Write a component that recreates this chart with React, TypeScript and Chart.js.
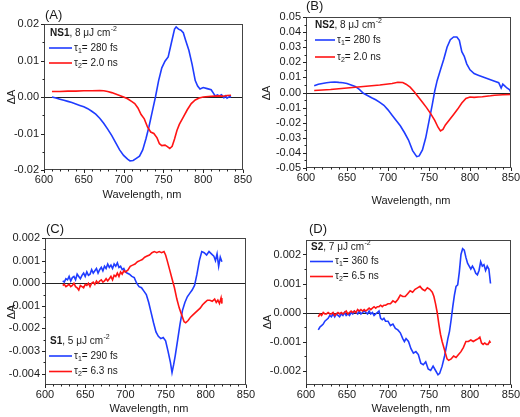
import React, { useEffect, useRef } from "react";
import { Chart, registerables } from "chart.js";
Chart.register(...registerables);

const FONT = '"Liberation Sans", Arial, Helvetica, sans-serif';
const TXT = "#1a1a1a";
const BLUE = "#1f3cff";
const RED = "#ff1414";

const X_TICKS = [600, 650, 700, 750, 800, 850];

// ---------- Panel A: NS1 ----------
const A_BLUE_X = [610,615,620,625,630,635,640,645,650,655,660,665,670,675,680,685,690,695,700,705,708,712,716,720,724,728,732,736,740,744,748,752,756,760,764,766,769,772,775,778,782,786,790,793,796,800,805,810,813,815,818,820,823,826,828,830,833,835];
const A_BLUE_Y = [0.0000,-0.0003,-0.0006,-0.0009,-0.0012,-0.0015,-0.0019,-0.0023,-0.0027,-0.0032,-0.0039,-0.0047,-0.0058,-0.0072,-0.0088,-0.0105,-0.0125,-0.0145,-0.0160,-0.0170,-0.0175,-0.0174,-0.0168,-0.0162,-0.0145,-0.0115,-0.0080,-0.0040,0.0000,0.0045,0.0080,0.0098,0.0110,0.0148,0.0186,0.0192,0.0186,0.0183,0.0176,0.0155,0.0128,0.0090,0.0045,0.0030,0.0022,0.0026,0.0023,0.0020,0.0010,0.0003,0.0006,0.0003,0.0006,-0.0002,0.0003,-0.0003,0.0001,0.0000];
const A_RED_X = [610,620,630,640,650,660,670,675,680,685,690,695,700,705,710,714,718,722,726,730,734,738,742,745,748,752,755,758,761,764,767,770,775,780,785,790,795,800,810,820,825,830,835];
const A_RED_Y = [0.0015,0.0015,0.0016,0.0016,0.0017,0.0017,0.0018,0.0017,0.0015,0.0012,0.0008,0.0004,0.0000,-0.0005,-0.0012,-0.0018,-0.0030,-0.0048,-0.0060,-0.0082,-0.0096,-0.0100,-0.0112,-0.0128,-0.0133,-0.0132,-0.0136,-0.0141,-0.0135,-0.0115,-0.0092,-0.0075,-0.0055,-0.0035,-0.0018,-0.0008,-0.0003,0.0000,0.0002,0.0003,0.0002,0.0004,0.0005];
const A_Y_TICKS = [-0.02, -0.01, 0, 0.01, 0.02];
const A_TAU = ["280 fs", "2.0 ns"];

// ---------- Panel B: NS2 ----------
const B_BLUE_X = [610,615,620,625,630,635,640,645,650,655,660,665,670,675,680,685,690,695,700,705,710,715,720,725,730,735,738,742,746,750,754,757,760,764,768,772,776,780,784,787,790,793,796,800,805,810,815,820,825,830,835,838,840,843,845,848,850];
const B_BLUE_Y = [0.0045,0.0055,0.0060,0.0065,0.0068,0.0070,0.0067,0.0065,0.0060,0.0050,0.0040,0.0020,-0.0005,-0.0020,-0.0035,-0.0048,-0.0065,-0.0085,-0.0115,-0.0150,-0.0185,-0.0220,-0.0265,-0.0315,-0.0385,-0.0425,-0.0420,-0.0380,-0.0300,-0.0190,-0.0080,0.0010,0.0080,0.0150,0.0220,0.0300,0.0350,0.0368,0.0368,0.0345,0.0270,0.0240,0.0190,0.0150,0.0125,0.0115,0.0105,0.0095,0.0085,0.0075,0.0065,0.0030,0.0055,0.0040,0.0030,0.0020,0.0000];
const B_RED_X = [610,630,650,670,690,705,712,718,722,727,732,737,742,747,752,757,761,764,767,770,775,780,785,790,795,800,805,810,815,820,825,830,840,850];
const B_RED_Y = [0.0013,0.0020,0.0030,0.0040,0.0050,0.0060,0.0068,0.0066,0.0055,0.0035,0.0005,-0.0030,-0.0065,-0.0100,-0.0140,-0.0185,-0.0230,-0.0255,-0.0245,-0.0215,-0.0180,-0.0145,-0.0110,-0.0070,-0.0040,-0.0030,-0.0032,-0.0030,-0.0028,-0.0025,-0.0022,-0.0018,-0.0015,-0.0013];
const B_Y_TICKS = [-0.05,-0.04,-0.03,-0.02,-0.01,0,0.01,0.02,0.03,0.04,0.05];
const B_TAU = ["280 fs", "2.0 ns"];

// ---------- Panel C: S1 ----------
const C_BLUE_X = [622,624,626,628,630,632,634,636,638,640,642,644,646,648,650,652,654,656,658,660,662,664,666,668,670,672,674,676,678,680,682,684,686,688,690,692,694,696,698,700,702,705,708,711,714,717,720,723,726,729,732,735,738,741,744,747,750,753,756,758,760,762,765,768,771,774,777,780,783,786,789,792,795,798,801,804,807,810,812,814,816,818,820];
const C_BLUE_Y = [0.00010,0.00005,0.00020,0.00015,0.00030,0.00010,0.00025,0.00030,0.00015,0.00040,0.00030,0.00020,0.00035,0.00045,0.00030,0.00050,0.00035,0.00040,0.00060,0.00045,0.00055,0.00065,0.00045,0.00060,0.00070,0.00055,0.00075,0.00065,0.00085,0.00070,0.00080,0.00065,0.00085,0.00075,0.00090,0.00070,0.00075,0.00060,0.00065,0.00050,0.00045,0.00040,0.00030,0.00025,0.00000,-0.00015,-0.00020,-0.00035,-0.00050,-0.00085,-0.00130,-0.00175,-0.00215,-0.00235,-0.00245,-0.00240,-0.00255,-0.00300,-0.00350,-0.00395,-0.00360,-0.00320,-0.00250,-0.00180,-0.00120,-0.00085,-0.00060,-0.00045,-0.00030,-0.00010,0.00040,0.00100,0.00140,0.00135,0.00125,0.00140,0.00130,0.00120,0.00100,0.00130,0.00075,0.00115,0.00095];
const C_RED_X = [622,624,626,628,630,632,634,636,638,640,642,644,646,648,650,652,654,656,658,660,662,664,666,668,670,672,674,676,678,680,682,684,686,688,690,692,694,696,698,700,703,706,709,712,715,718,721,724,727,730,733,736,739,742,745,748,750,752,755,758,761,764,767,770,773,775,778,781,784,787,790,793,796,799,802,805,808,811,813,815,817,819,820];
const C_RED_Y = [-0.00010,-0.00005,-0.00015,-0.00010,-0.00005,-0.00015,-0.00010,0.00000,-0.00015,-0.00020,-0.00030,-0.00010,-0.00015,-0.00020,-0.00005,-0.00010,0.00000,-0.00015,0.00000,0.00005,-0.00005,0.00010,0.00000,0.00010,0.00015,0.00005,0.00010,0.00020,0.00010,0.00020,0.00030,0.00015,0.00035,0.00030,0.00045,0.00030,0.00050,0.00040,0.00055,0.00050,0.00058,0.00075,0.00080,0.00085,0.00095,0.00100,0.00105,0.00115,0.00120,0.00125,0.00135,0.00140,0.00135,0.00140,0.00135,0.00140,0.00125,0.00100,0.00060,0.00020,-0.00020,-0.00070,-0.00110,-0.00140,-0.00170,-0.00175,-0.00165,-0.00150,-0.00140,-0.00130,-0.00120,-0.00110,-0.00095,-0.00085,-0.00075,-0.00075,-0.00080,-0.00070,-0.00085,-0.00075,-0.00090,-0.00065,-0.00090];
const C_Y_TICKS = [-0.004,-0.003,-0.002,-0.001,0,0.001,0.002];
const C_TAU = ["290 fs", "6.3 ns"];

// ---------- Panel D: S2 ----------
const D_BLUE_X = [615,617,619,621,623,625,627,629,631,633,635,637,639,641,643,645,647,649,651,653,655,657,659,661,663,665,667,669,671,673,675,677,679,681,683,685,687,689,691,693,695,697,700,703,706,709,712,715,718,720,722,725,728,731,734,737,740,743,746,749,752,755,758,761,763,766,769,771,773,775,777,779,781,783,785,787,789,791,793,795,797,799,801,803,805,807,809,811,813,815,817,819,821,823,825];
const D_BLUE_Y = [-0.00060,-0.00050,-0.00045,-0.00040,-0.00030,-0.00025,-0.00020,-0.00010,-0.00015,-0.00005,-0.00015,-0.00005,-0.00010,-0.00015,-0.00005,-0.00010,0.00000,-0.00010,-0.00005,-0.00010,0.00000,-0.00005,0.00005,0.00000,-0.00005,0.00005,-0.00005,0.00000,0.00005,0.00000,-0.00005,0.00005,-0.00005,0.00000,-0.00010,-0.00005,0.00000,0.00005,-0.00020,-0.00025,-0.00020,-0.00030,-0.00030,-0.00045,-0.00040,-0.00055,-0.00060,-0.00070,-0.00090,-0.00100,-0.00090,-0.00100,-0.00125,-0.00140,-0.00135,-0.00145,-0.00175,-0.00180,-0.00170,-0.00195,-0.00200,-0.00185,-0.00200,-0.00215,-0.00210,-0.00185,-0.00150,-0.00120,-0.00090,-0.00065,-0.00025,0.00020,0.00060,0.00090,0.00095,0.00140,0.00200,0.00220,0.00215,0.00190,0.00170,0.00160,0.00150,0.00160,0.00150,0.00135,0.00130,0.00145,0.00175,0.00160,0.00165,0.00145,0.00160,0.00150,0.00100];
const D_RED_X = [615,617,619,621,623,625,627,629,631,633,635,637,639,641,643,645,647,649,651,653,655,657,659,661,663,665,667,669,671,673,675,677,679,681,683,685,687,689,691,693,695,697,700,703,706,709,712,715,718,721,724,727,730,733,736,739,742,745,748,751,754,756,758,760,762,764,766,768,770,772,774,777,780,783,786,789,792,795,798,801,804,807,810,812,814,816,818,820,822,824,825];
const D_RED_Y = [-0.00015,-0.00005,-0.00010,0.00000,-0.00005,-0.00005,0.00000,-0.00005,-0.00005,0.00000,-0.00010,-0.00005,0.00000,-0.00005,0.00000,-0.00005,0.00000,0.00005,-0.00005,0.00000,0.00005,0.00000,0.00005,0.00000,0.00010,0.00005,0.00010,0.00005,0.00010,0.00005,0.00010,0.00015,0.00010,0.00015,0.00020,0.00015,0.00020,0.00020,0.00025,0.00020,0.00025,0.00025,0.00030,0.00030,0.00040,0.00035,0.00045,0.00060,0.00055,0.00055,0.00065,0.00075,0.00070,0.00080,0.00085,0.00090,0.00080,0.00075,0.00085,0.00080,0.00070,0.00055,0.00030,0.00000,-0.00040,-0.00075,-0.00100,-0.00120,-0.00140,-0.00160,-0.00165,-0.00160,-0.00150,-0.00155,-0.00145,-0.00135,-0.00120,-0.00100,-0.00100,-0.00095,-0.00100,-0.00095,-0.00090,-0.00085,-0.00105,-0.00110,-0.00105,-0.00110,-0.00110,-0.00100,-0.00105];
const D_Y_TICKS = [-0.002,-0.001,0,0.001,0.002];
const D_TAU = ["360 fs", "6.5 ns"];

type Box = { x: number; y: number; w: number; h: number };
type Cfg = {
  label: string;
  region: Box;
  plot: { l: number; t: number; r: number; b: number };
  yMin: number; yMax: number; yTicks: number[]; dec: number;
  blue: [number[], number[]]; red: [number[], number[]];
  name: string; fluence: string; tau: string[];
  leg: { hx: number; hy: number; lx1: number; lx2: number; y1: number; y2: number; tx: number };
  lab: { x: number; y: number };
  yTitle: { x: number; y: number };
  xTitle: { x: number; y: number };
};

const PANELS: Cfg[] = [
  {
    label: "(A)", region: { x: 0, y: 0, w: 260, h: 208 }, plot: { l: 44, t: 24, r: 243, b: 170 },
    yMin: -0.02, yMax: 0.02, yTicks: A_Y_TICKS, dec: 2, blue: [A_BLUE_X, A_BLUE_Y], red: [A_RED_X, A_RED_Y],
    name: "NS1", fluence: ", 8 μJ cm", tau: A_TAU,
    leg: { hx: 50, hy: 33, lx1: 49, lx2: 72, y1: 48, y2: 63, tx: 74 },
    lab: { x: 45, y: 15 }, yTitle: { x: 12, y: 97 }, xTitle: { x: 142, y: 195 },
  },
  {
    label: "(B)", region: { x: 260, y: 0, w: 260, h: 208 }, plot: { l: 306, t: 17, r: 511, b: 168 },
    yMin: -0.05, yMax: 0.05, yTicks: B_Y_TICKS, dec: 2, blue: [B_BLUE_X, B_BLUE_Y], red: [B_RED_X, B_RED_Y],
    name: "NS2", fluence: ", 8 μJ cm", tau: B_TAU,
    leg: { hx: 315, hy: 25, lx1: 315, lx2: 335, y1: 40, y2: 57, tx: 337 },
    lab: { x: 306, y: 6 }, yTitle: { x: 267, y: 93 }, xTitle: { x: 411, y: 201 },
  },
  {
    label: "(C)", region: { x: 0, y: 208, w: 260, h: 209 }, plot: { l: 45, t: 238, r: 246, b: 385 },
    yMin: -0.0045, yMax: 0.002, yTicks: C_Y_TICKS, dec: 3, blue: [C_BLUE_X, C_BLUE_Y], red: [C_RED_X, C_RED_Y],
    name: "S1", fluence: ", 5 μJ cm", tau: C_TAU,
    leg: { hx: 50, hy: 341, lx1: 49, lx2: 72, y1: 356, y2: 371.5, tx: 74 },
    lab: { x: 46, y: 229 }, yTitle: { x: 12, y: 312 }, xTitle: { x: 149, y: 409 },
  },
  {
    label: "(D)", region: { x: 260, y: 208, w: 260, h: 209 }, plot: { l: 306, t: 240, r: 511, b: 385 },
    yMin: -0.0025, yMax: 0.0025, yTicks: D_Y_TICKS, dec: 3, blue: [D_BLUE_X, D_BLUE_Y], red: [D_RED_X, D_RED_Y],
    name: "S2", fluence: ", 7 μJ cm", tau: D_TAU,
    leg: { hx: 311, hy: 247.5, lx1: 310, lx2: 333, y1: 261.5, y2: 276.5, tx: 335 },
    lab: { x: 309, y: 229 }, yTitle: { x: 268, y: 322 }, xTitle: { x: 411, y: 409 },
  },
];

function subdiv(a: number[], n: number): number[] {
  const out: number[] = [];
  for (let i = 0; i < a.length - 1; i++) {
    for (let k = 1; k < n; k++) out.push(a[i] + ((a[i + 1] - a[i]) * k) / n);
  }
  return out;
}

function makePlugin(c: Cfg) {
  const ox = c.region.x, oy = c.region.y;
  return {
    id: "deco",
    beforeDatasetsDraw(chart: any) {
      const { ctx, chartArea: a, scales } = chart;
      const y0 = Math.round(scales.y.getPixelForValue(0)) + 0.5;
      ctx.save();
      ctx.strokeStyle = "#222";
      ctx.lineWidth = 1;
      ctx.beginPath();
      ctx.moveTo(a.left, y0);
      ctx.lineTo(a.right, y0);
      ctx.stroke();
      ctx.restore();
    },
    afterDatasetsDraw(chart: any) {
      const { ctx, chartArea: a, scales } = chart;
      ctx.save();
      ctx.strokeStyle = "#444";
      ctx.lineWidth = 1;
      const L = Math.round(a.left) + 0.5, R = Math.round(a.right) - 0.5;
      const T = Math.round(a.top) + 0.5, B = Math.round(a.bottom) - 0.5;
      ctx.strokeRect(L, T, R - L, B - T);
      ctx.strokeStyle = "#222";
      ctx.beginPath();
      for (const v of c.yTicks) {
        const y = Math.round(scales.y.getPixelForValue(v)) + 0.5;
        ctx.moveTo(L - 3.5, y); ctx.lineTo(L, y);
      }
      for (const v of subdiv(c.yTicks, 2)) {
        const y = Math.round(scales.y.getPixelForValue(v)) + 0.5;
        ctx.moveTo(L - 2, y); ctx.lineTo(L, y);
      }
      for (const v of X_TICKS) {
        const x = Math.round(scales.x.getPixelForValue(v)) + 0.5;
        ctx.moveTo(x, B); ctx.lineTo(x, B + 3.5);
      }
      for (const v of subdiv(X_TICKS, 5)) {
        const x = Math.round(scales.x.getPixelForValue(v)) + 0.5;
        ctx.moveTo(x, B); ctx.lineTo(x, B + 2);
      }
      ctx.stroke();
      ctx.restore();
    },
    afterDraw(chart: any) {
      const { ctx } = chart;
      ctx.save();
      ctx.fillStyle = TXT;
      ctx.textBaseline = "middle";
      ctx.font = `13px ${FONT}`;
      ctx.textAlign = "left";
      ctx.fillText(c.label, c.lab.x - ox, c.lab.y - oy);
      ctx.font = `11px ${FONT}`;
      ctx.textAlign = "center";
      ctx.fillText("Wavelength, nm", c.xTitle.x - ox, c.xTitle.y - oy);
      ctx.save();
      ctx.translate(c.yTitle.x - ox, c.yTitle.y - oy);
      ctx.rotate(-Math.PI / 2);
      ctx.fillText("ΔA", 0, 0);
      ctx.restore();
      ctx.textAlign = "left";
      let x = c.leg.hx - ox;
      const hy = c.leg.hy - oy;
      ctx.font = `bold 10px ${FONT}`;
      ctx.fillText(c.name, x, hy);
      x += ctx.measureText(c.name).width;
      ctx.font = `10px ${FONT}`;
      ctx.fillText(c.fluence, x, hy);
      x += ctx.measureText(c.fluence).width;
      ctx.font = `7px ${FONT}`;
      ctx.fillText("-2", x + 0.5, hy - 4);
      const items: [string, number, string][] = [[BLUE, c.leg.y1, "1"], [RED, c.leg.y2, "2"]];
      items.forEach(([col, yy, sub], i) => {
        const y = yy - oy;
        ctx.strokeStyle = col;
        ctx.lineWidth = 1.6;
        ctx.beginPath();
        ctx.moveTo(c.leg.lx1 - ox, y);
        ctx.lineTo(c.leg.lx2 - ox, y);
        ctx.stroke();
        let tx = c.leg.tx - ox;
        ctx.font = `10px ${FONT}`;
        ctx.fillText("τ", tx, y);
        tx += ctx.measureText("τ").width;
        ctx.font = `7px ${FONT}`;
        ctx.fillText(sub, tx, y + 3);
        tx += ctx.measureText(sub).width;
        ctx.font = `10px ${FONT}`;
        ctx.fillText("= " + c.tau[i], tx, y);
      });
      ctx.restore();
    },
  };
}

function Panel({ c }: { c: Cfg }) {
  const ref = useRef<HTMLCanvasElement>(null);
  useEffect(() => {
    const cv = ref.current!;
    const W = c.region.w, H = c.region.h;
    const L = c.plot.l - c.region.x, R = c.plot.r - c.region.x;
    const T = c.plot.t - c.region.y, B = c.plot.b - c.region.y;
    const toPts = (s: [number[], number[]]) => s[0].map((x, i) => ({ x, y: s[1][i] }));
    const chart = new Chart(cv, {
      type: "line",
      data: {
        datasets: [
          { data: toPts(c.red), borderColor: RED, borderWidth: 1.6, pointRadius: 0, tension: 0, fill: false },
          { data: toPts(c.blue), borderColor: BLUE, borderWidth: 1.6, pointRadius: 0, tension: 0, fill: false },
        ],
      },
      options: {
        animation: false,
        responsive: false,
        maintainAspectRatio: false,
        devicePixelRatio: 1,
        layout: { padding: { left: 0, top: T, right: W - R, bottom: 0 } },
        plugins: { legend: { display: false }, tooltip: { enabled: false }, title: { display: false } },
        scales: {
          x: {
            type: "linear", min: 600, max: 850,
            grid: { display: false, drawTicks: false },
            border: { display: false },
            afterBuildTicks: (s: any) => { s.ticks = X_TICKS.map((v) => ({ value: v })); },
            afterFit: (s: any) => { s.height = H - B; s.paddingLeft = 0; s.paddingRight = 0; },
            ticks: { font: { family: FONT, size: 11 }, color: TXT, padding: 3, maxRotation: 0, autoSkip: false, callback: (v: any) => String(v) },
          },
          y: {
            type: "linear", min: c.yMin, max: c.yMax,
            grid: { display: false, drawTicks: false },
            border: { display: false },
            afterBuildTicks: (s: any) => { s.ticks = c.yTicks.map((v) => ({ value: v })); },
            afterFit: (s: any) => { s.width = L; s.paddingTop = 0; s.paddingBottom = 0; },
            ticks: { font: { family: FONT, size: 11 }, color: TXT, padding: 5, autoSkip: false, callback: (v: any) => Number(v).toFixed(c.dec) },
          },
        },
      } as any,
      plugins: [makePlugin(c)],
    });
    return () => chart.destroy();
  }, [c]);
  return (
    <canvas
      ref={ref}
      width={c.region.w}
      height={c.region.h}
      style={{ position: "absolute", left: c.region.x, top: c.region.y, width: c.region.w, height: c.region.h }}
    />
  );
}

export default function App() {
  return (
    <div style={{ position: "absolute", left: 0, top: 0, width: 520, height: 417, background: "#fff", overflow: "hidden" }}>
      {PANELS.map((c) => (
        <Panel key={c.label} c={c} />
      ))}
    </div>
  );
}
